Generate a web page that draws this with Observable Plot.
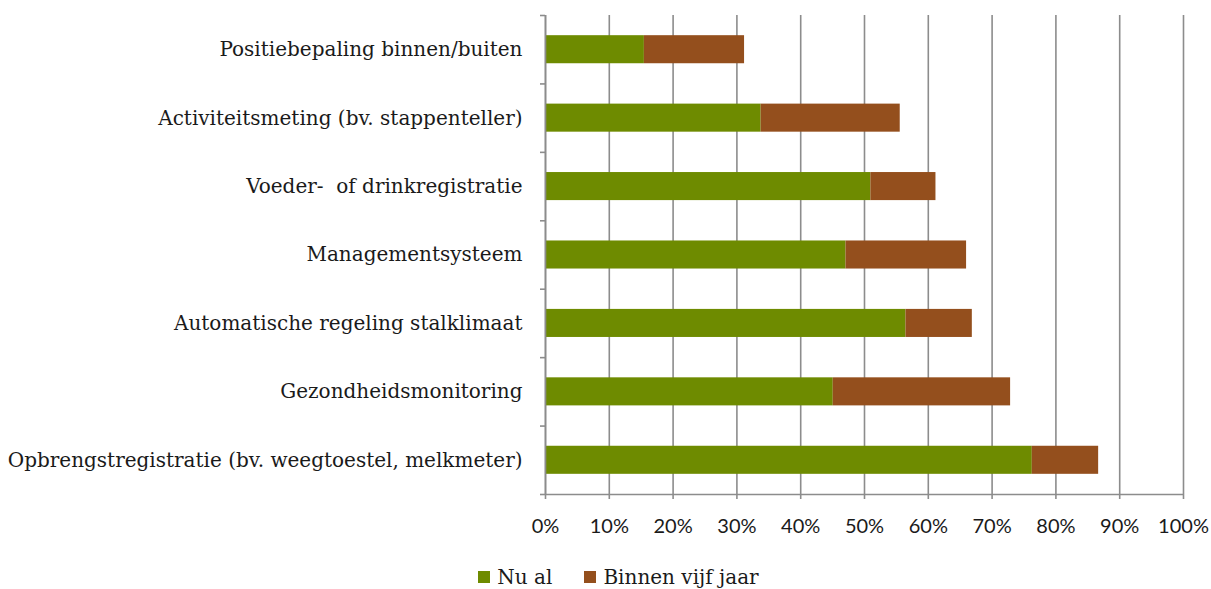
<!DOCTYPE html>
<html>
<head>
<meta charset="utf-8">
<script src="https://cdn.jsdelivr.net/npm/d3@7"></script>
<script src="https://cdn.jsdelivr.net/npm/@observablehq/plot@0.6"></script>
<style>
  html, body { margin: 0; padding: 0; background: #fff; }
  #chart { width: 1211px; height: 589px; position: relative; }
  #legend { position: absolute; left: 13px; top: 565px; width: 1211px; display: flex; justify-content: center; font-family: "DejaVu Serif", serif; font-size: 20px; color: #1a1a1a; }
  .sw { display: inline-flex; align-items: center; margin: 0 16px; }
  .sq { width: 12px; height: 12px; margin-right: 7px; display: inline-block; }
</style>
</head>
<body>
<div id="chart"></div>
<script>
const categories = [
  "Positiebepaling binnen/buiten",
  "Activiteitsmeting (bv. stappenteller)",
  "Voeder-  of drinkregistratie",
  "Managementsysteem",
  "Automatische regeling stalklimaat",
  "Gezondheidsmonitoring",
  "Opbrengstregistratie (bv. weegtoestel, melkmeter)"
];
const nuAl = [15.5, 33.8, 51.0, 47.1, 56.5, 45.1, 76.3];
const binnenVijfJaar = [15.7, 21.8, 10.2, 18.9, 10.4, 27.8, 10.4];
const seriesNames = ["Nu al", "Binnen vijf jaar"];
const seriesColors = ["#6e8b00", "#944f1d"];
const xTicks = d3.range(0, 101, 10);

const data = [];
categories.forEach((c, i) => {
  data.push({cat: c, idx: i, series: seriesNames[0], x1: 0, x2: nuAl[i]});
  data.push({cat: c, idx: i, series: seriesNames[1], x1: nuAl[i], x2: nuAl[i] + binnenVijfJaar[i]});
});

const gray = "#8c8c8c";
const plot = Plot.plot({
  width: 1211,
  height: 560,
  marginLeft: 545,
  marginRight: 28,
  marginTop: 15,
  marginBottom: 66,
  x: {domain: [0, 100]},
  y: {domain: [0, categories.length], range: [15, 494]},
  color: {domain: seriesNames, range: seriesColors},
  marks: [
    Plot.gridX(xTicks, {stroke: gray, strokeOpacity: 1, strokeWidth: 1.6}),
    Plot.rectX(data, {
      x1: "x1", x2: "x2",
      y1: d => d.idx + 0.295, y2: d => d.idx + 0.705,
      fill: "series"
    }),
    Plot.ruleX([0], {stroke: gray, strokeWidth: 1.6}),
    Plot.ruleY([categories.length], {stroke: gray, strokeWidth: 1.6}),
    Plot.axisY(d3.range(categories.length + 1), {
      tickSize: 5, tickFormat: () => "", stroke: gray, strokeWidth: 1.6
    }),
    Plot.axisY(d3.range(categories.length).map(i => i + 0.5), {
      tickSize: 0, tickPadding: 23,
      tickFormat: d => categories[Math.floor(d)],
      fontFamily: "DejaVu Serif", fontSize: 20, fill: "#1a1a1a"
    }),
    Plot.axisX(xTicks, {
      tickSize: 5, tickPadding: 19, stroke: gray, strokeWidth: 1.6,
      tickFormat: d => d + "%",
      fontFamily: "Lato", fontSize: 20, fill: "#1a1a1a"
    })
  ]
});
const chart = document.getElementById("chart");
chart.appendChild(plot);

const legend = document.createElement("div");
legend.id = "legend";
seriesNames.forEach((n, i) => {
  const s = document.createElement("span");
  s.className = "sw";
  const q = document.createElement("span");
  q.className = "sq";
  q.style.background = seriesColors[i];
  s.appendChild(q);
  s.appendChild(document.createTextNode(n));
  legend.appendChild(s);
});
chart.appendChild(legend);
</script>
</body>
</html>
